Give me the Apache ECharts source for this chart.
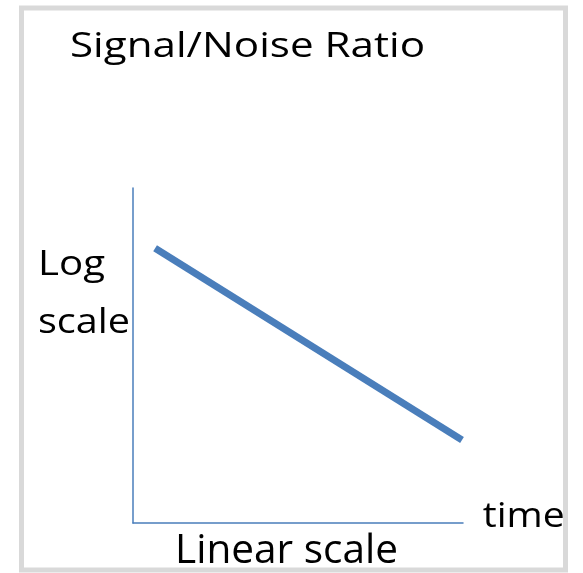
<!DOCTYPE html>
<html><head><meta charset="utf-8">
<script src="https://cdn.jsdelivr.net/npm/echarts@6/dist/echarts.min.js"></script>
<style>html,body{margin:0;padding:0;background:#fff}#c{width:583px;height:573px}</style>
</head><body><div id="c"></div>
<script>
const titleText = 'Signal/Noise Ratio';
const xAxisName = 'time';
const xAxisTitle = 'Linear scale';
const yAxisTitleLines = ['Log', 'scale'];
const timeValues = [0.67, 9.97];
const snrValues = [8.2, 2.48];

const FONT = '"Open Sans", "Noto Sans", sans-serif';
const cv = document.createElement('canvas').getContext('2d');
function measure(text, fs) { cv.font = fs + 'px ' + FONT; cv.textBaseline = 'alphabetic'; return cv.measureText(text).width; }
// distance from the 'middle' baseline down to the alphabetic baseline
function middleToAlpha(fs) {
  cv.font = fs + 'px ' + FONT;
  cv.textBaseline = 'alphabetic';
  const a = cv.measureText('H').actualBoundingBoxAscent;
  cv.textBaseline = 'middle';
  const m = cv.measureText('H').actualBoundingBoxAscent;
  cv.textBaseline = 'alphabetic';
  return a - m;
}
// text placed by left x, alphabetic baseline y, target width
function label(text, x, baseline, fs, targetWidth) {
  const w = measure(text, fs);
  const top = baseline - fs / 2 - middleToAlpha(fs);
  return {
    type: 'text', x: x, y: top, scaleX: targetWidth / w, scaleY: 1, z: 100,
    style: {x: 0, y: 0, text: text, font: fs + 'px ' + FONT, lineHeight: fs, fill: '#000', verticalAlign: 'top', align: 'left'}
  };
}

const chart = echarts.init(document.getElementById('c'), null, {renderer: 'canvas'});
function render() {
  chart.setOption({
    animation: false,
    backgroundColor: '#fff',
    grid: {left: 133, top: 188, right: 120, bottom: 50},
    xAxis: {type: 'value', min: 0, max: 10, axisLine: {lineStyle: {color: '#4a7ebb', width: 1.5}}, axisTick: {show: false}, axisLabel: {show: false}, splitLine: {show: false}},
    yAxis: {type: 'value', min: 0, max: 10, axisLine: {show: true, lineStyle: {color: '#4a7ebb', width: 1.5}}, axisTick: {show: false}, axisLabel: {show: false}, splitLine: {show: false}},
    graphic: [
      {type: 'rect', z: 50, shape: {x: 21.5, y: 8, width: 544, height: 562}, style: {fill: 'none', stroke: '#d9d9d9', lineWidth: 5}},
      label(titleText, 70, 57, 34, 355),
      label(yAxisTitleLines[0], 38, 275, 35, 67),
      label(yAxisTitleLines[1], 38, 332.7, 35, 92),
      label(xAxisName, 482.7, 527.3, 35, 82),
      label(xAxisTitle, 175, 562.7, 41, 223)
    ],
    series: [{type: 'line', data: timeValues.map((t, i) => [t, snrValues[i]]), symbol: 'none', lineStyle: {color: '#4a7ebb', width: 7, cap: 'butt'}}]
  });
}
if (document.fonts && document.fonts.load) {
  document.fonts.load('34px "Open Sans"').then(render, render);
} else { render(); }
</script></body></html>
